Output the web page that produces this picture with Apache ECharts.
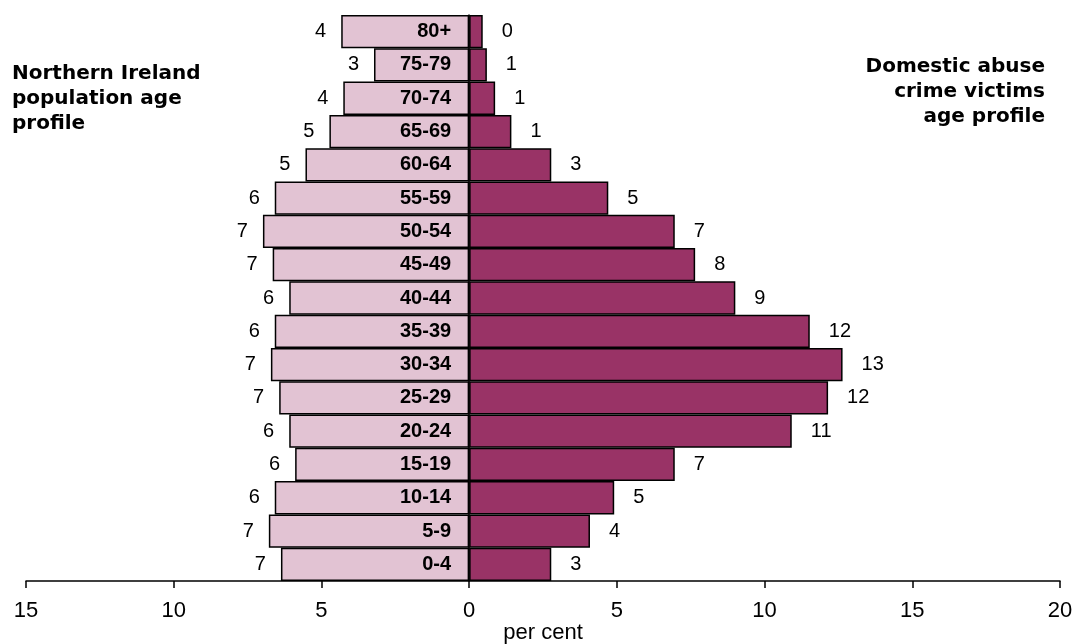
<!DOCTYPE html>
<html>
<head>
<meta charset="utf-8">
<script src="https://cdn.jsdelivr.net/npm/echarts@6/dist/echarts.min.js"></script>
<style>
html,body{margin:0;padding:0;background:#fff;}
#chart{width:1080px;height:644px;}
</style>
</head>
<body>
<div id="chart"></div>
<script>
// Age groups, top to bottom as drawn
const categories = ['80+','75-79','70-74','65-69','60-64','55-59','50-54','45-49','40-44','35-39','30-34','25-29','20-24','15-19','10-14','5-9','0-4'];
// Northern Ireland population age profile (per cent)
const populationValues = [4.33,3.22,4.26,4.73,5.54,6.58,6.98,6.65,6.09,6.58,6.71,6.43,6.09,5.89,6.58,6.78,6.37];
const populationLabels = ['4','3','4','5','5','6','7','7','6','6','7','7','6','6','6','7','7'];
// Domestic abuse crime victims age profile (per cent)
const victimValues = [0.46,0.6,0.88,1.43,2.78,4.71,6.96,7.65,9.01,11.53,12.64,12.15,10.92,6.96,4.91,4.09,2.78];
const victimLabels = ['0','1','1','1','3','5','7','8','9','12','13','12','11','7','5','4','3'];
// Axis ticks
const tickMin = -15, tickMax = 20, tickStep = 5;

const FONT = '"Liberation Sans", Arial, sans-serif';
const TITLE_FONT = '"DejaVu Sans", sans-serif';
const gridLeft = 26, gridRight = 20;
const plotWidth = 1080 - gridLeft - gridRight;
// distance from grid's left edge to the value 0 on the x axis
const zeroOffset = plotWidth * (0 - tickMin) / (tickMax - tickMin);

const chart = echarts.init(document.getElementById('chart'));
chart.setOption({
  animation: false,
  backgroundColor: '#ffffff',
  title: [
    {
      text: 'Northern Ireland\npopulation age\nprofile',
      left: 12, top: 61,
      padding: 0,
      textStyle: {fontFamily: TITLE_FONT, fontWeight: 'bold', fontSize: 20, lineHeight: 25, color: '#000'}
    },
    {
      text: 'Domestic abuse\ncrime victims\nage profile',
      left: 1045, top: 54,
      padding: 0,
      textAlign: 'right',
      textStyle: {fontFamily: TITLE_FONT, fontWeight: 'bold', fontSize: 20, lineHeight: 25, color: '#000', align: 'right'}
    }
  ],
  grid: {left: gridLeft, right: gridRight, top: 15, bottom: 63, containLabel: false, outerBoundsMode: 'none'},
  xAxis: {
    type: 'value',
    min: tickMin, max: tickMax, interval: tickStep,
    name: 'per cent',
    nameLocation: 'middle',
    nameGap: 41,
    nameMoveOverlap: false,
    nameTextStyle: {fontFamily: FONT, fontSize: 22, color: '#000'},
    splitLine: {show: false},
    axisLine: {show: true, onZero: false, lineStyle: {color: '#000', width: 1.5}},
    axisTick: {show: true, length: 7, lineStyle: {color: '#000', width: 1.5}},
    axisLabel: {fontFamily: FONT, fontSize: 22, color: '#000', margin: 19, formatter: v => String(Math.abs(v))}
  },
  yAxis: {
    type: 'category',
    data: categories,
    inverse: true,
    z: 10,
    offset: -zeroOffset,
    axisLine: {show: true, onZero: false, lineStyle: {color: '#000', width: 1.5}},
    axisTick: {show: false},
    axisLabel: {fontFamily: FONT, fontSize: 20, fontWeight: 'bold', color: '#000', margin: 18}
  },
  series: [
    {
      name: 'Northern Ireland population age profile',
      type: 'bar',
      data: populationValues.map(v => -v),
      barGap: '-100%',
      barCategoryGap: '0%',
      itemStyle: {color: '#E2C3D3', borderColor: '#000', borderWidth: 1.5},
      label: {
        show: true, position: 'left', distance: 15,
        fontFamily: FONT, fontSize: 20, color: '#000',
        formatter: p => populationLabels[p.dataIndex]
      }
    },
    {
      name: 'Domestic abuse crime victims age profile',
      type: 'bar',
      data: victimValues,
      barGap: '-100%',
      barCategoryGap: '0%',
      itemStyle: {color: '#993366', borderColor: '#000', borderWidth: 1.5},
      label: {
        show: true, position: 'right', distance: 19,
        fontFamily: FONT, fontSize: 20, color: '#000',
        formatter: p => victimLabels[p.dataIndex]
      }
    }
  ]
});
</script>
</body>
</html>
